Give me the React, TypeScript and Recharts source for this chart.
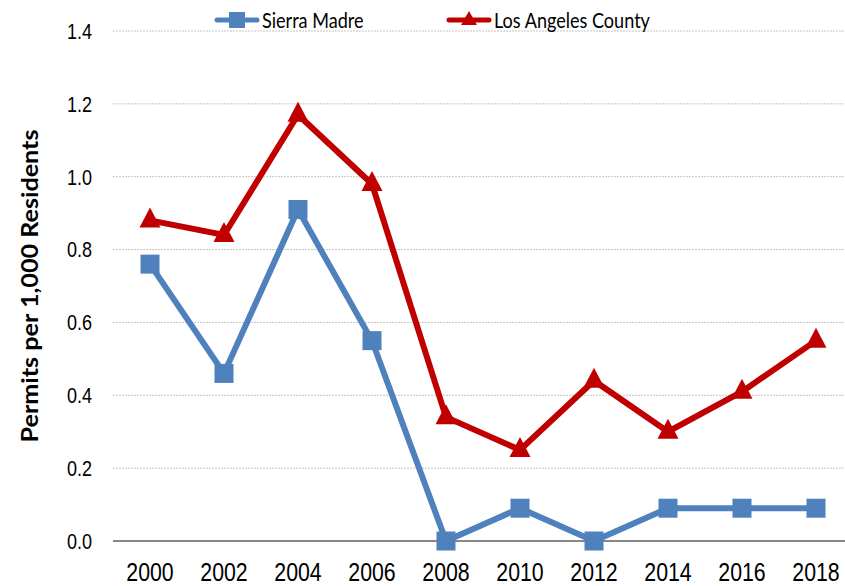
import React from "react";
import { LineChart, Line, XAxis, YAxis, CartesianGrid, Legend } from "recharts";

const years = ["2000", "2002", "2004", "2006", "2008", "2010", "2012", "2014", "2016", "2018"];
const sierraMadre = [0.76, 0.46, 0.91, 0.55, 0.0, 0.09, 0.0, 0.09, 0.09, 0.09];
const laCounty = [0.88, 0.84, 1.17, 0.98, 0.34, 0.25, 0.44, 0.3, 0.41, 0.55];
const yTicks = [0, 0.2, 0.4, 0.6, 0.8, 1.0, 1.2, 1.4];

const BLUE = "#4F81BD";
const RED = "#C00000";
const TICK_FONT = "'Liberation Sans', Arial, sans-serif";
const LABEL_FONT = "Lato, 'Open Sans', sans-serif";
const NARROW = 0.82;

const data = years.map((year, i) => ({
  year,
  sierra: sierraMadre[i],
  la: laCounty[i],
}));

const SquareDot = (props: any) => {
  const { cx, cy } = props;
  if (cx == null || cy == null) return null;
  return <rect x={cx - 9.5} y={cy - 9.5} width={19} height={19} fill={BLUE} />;
};

const TriangleDot = (props: any) => {
  const { cx, cy } = props;
  if (cx == null || cy == null) return null;
  return (
    <polygon
      points={`${cx},${cy - 13} ${cx + 10.5},${cy + 7} ${cx - 10.5},${cy + 7}`}
      fill={RED}
    />
  );
};

// narrow tick text, like Arial Narrow in the original
const XTick = (props: any) => {
  const { x, y, payload } = props;
  return (
    <g transform={`translate(${x},${y}) scale(${NARROW},1)`}>
      <text x={0} y={0} dy="0.71em" textAnchor="middle" fontSize={26} fontFamily={TICK_FONT} fill="#000">
        {payload.value}
      </text>
    </g>
  );
};

const YTick = (props: any) => {
  const { x, y, payload } = props;
  return (
    <g transform={`translate(${x},${y}) scale(${NARROW},1)`}>
      <text x={0} y={0} dy="0.355em" textAnchor="end" fontSize={22} fontFamily={TICK_FONT} fill="#000">
        {Number(payload.value).toFixed(1)}
      </text>
    </g>
  );
};

const LegendIcon = ({ color, shape }: { color: string; shape: "square" | "triangle" }) => (
  <svg width={46} height={20} style={{ display: "block" }}>
    <line x1={3} y1={10} x2={43} y2={10} stroke={color} strokeWidth={5} strokeLinecap="round" />
    {shape === "square" ? (
      <rect x={15} y={2} width={16} height={16} fill={color} />
    ) : (
      <polygon points="23,1 31,15 15,15" fill={color} />
    )}
  </svg>
);

const renderLegend = () => {
  const items = [
    { label: "Sierra Madre", color: BLUE, shape: "square" as const, left: 214 },
    { label: "Los Angeles County", color: RED, shape: "triangle" as const, left: 446 },
  ];
  return (
    <div style={{ position: "relative", height: 26 }}>
      {items.map((it) => (
        <div
          key={it.label}
          style={{
            position: "absolute",
            left: it.left,
            top: 0,
            display: "flex",
            alignItems: "center",
            height: 26,
          }}
        >
          <LegendIcon color={it.color} shape={it.shape} />
          <span
            style={{
              fontFamily: LABEL_FONT,
              fontSize: 21,
              color: "#000",
              marginLeft: 2,
              lineHeight: "26px",
              display: "inline-block",
              whiteSpace: "nowrap",
              transform: "scaleX(0.86)",
              transformOrigin: "left center",
            }}
          >
            {it.label}
          </span>
        </div>
      ))}
    </div>
  );
};

const YTitle = (props: any) => {
  const { viewBox } = props;
  const x = viewBox.x + 29;
  const y = viewBox.y + viewBox.height / 2;
  return (
    <text
      x={x}
      y={y}
      transform={`rotate(-90, ${x}, ${y})`}
      textAnchor="middle"
      dominantBaseline="central"
      fontFamily={LABEL_FONT}
      fontWeight="bold"
      fontSize={23}
      textLength={313}
      lengthAdjust="spacingAndGlyphs"
      fill="#000"
    >
      Permits per 1,000 Residents
    </text>
  );
};

export default function App() {
  return (
    <div
      style={{
        position: "absolute",
        left: 0,
        top: 0,
        width: 845,
        height: 586,
        overflow: "hidden",
        background: "#fff",
      }}
    >
      <LineChart
        width={853}
        height={586}
        data={data}
        margin={{ top: 5, right: 0, left: 0, bottom: 0 }}
      >
        <CartesianGrid vertical={false} stroke="#c4c4c4" strokeDasharray="2 1" />
        <XAxis
          dataKey="year"
          height={45}
          padding={{ left: 37, right: 37 }}
          axisLine={{ stroke: "#868686", strokeWidth: 2 }}
          tickLine={false}
          tickSize={0}
          tickMargin={22}
          tick={<XTick />}
          interval={0}
        />
        <YAxis
          width={113}
          domain={[0, 1.4]}
          ticks={yTicks}
          axisLine={false}
          tickLine={false}
          tickSize={0}
          tickMargin={21}
          tick={<YTick />}
          label={<YTitle />}
        />
        <Legend
          verticalAlign="top"
          align="left"
          content={renderLegend}
          wrapperStyle={{ top: 7, left: 0, width: 853, height: 26 }}
        />
        <Line
          type="linear"
          dataKey="sierra"
          name="Sierra Madre"
          stroke={BLUE}
          strokeWidth={6}
          dot={<SquareDot />}
          activeDot={false}
          isAnimationActive={false}
        />
        <Line
          type="linear"
          dataKey="la"
          name="Los Angeles County"
          stroke={RED}
          strokeWidth={6}
          dot={<TriangleDot />}
          activeDot={false}
          isAnimationActive={false}
        />
      </LineChart>
    </div>
  );
}
